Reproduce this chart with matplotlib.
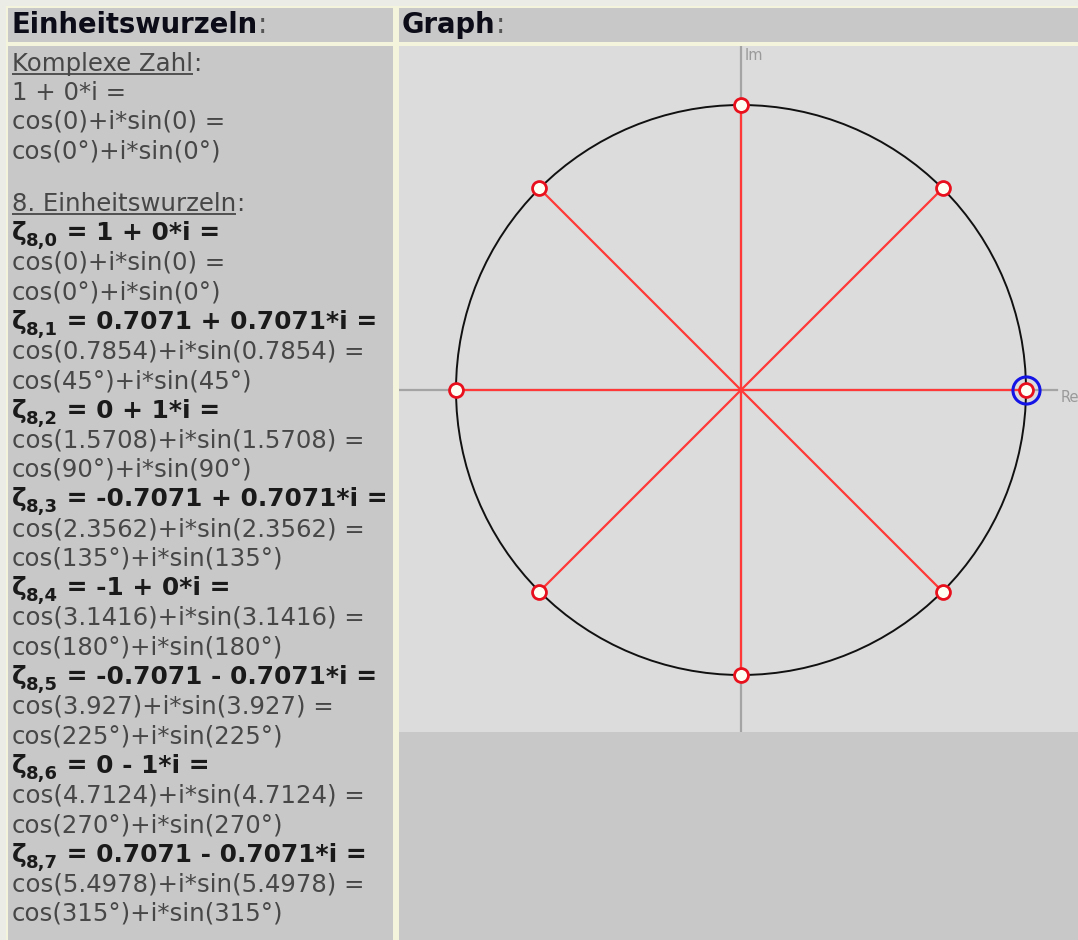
import matplotlib
matplotlib.use("Agg")
import matplotlib.pyplot as plt
from matplotlib.patches import Rectangle, Circle

# ---- data ----
n_roots = 8
root_re = [1, 0.7071, 0, -0.7071, -1, -0.7071, 0, 0.7071]
root_im = [0, 0.7071, 1, 0.7071, 0, -0.7071, -1, -0.7071]
root_rad = ["0", "0.7854", "1.5708", "2.3562", "3.1416", "3.927", "4.7124", "5.4978"]
root_deg = [0, 45, 90, 135, 180, 225, 270, 315]
z_re, z_im = 1, 0
z_rad, z_deg = "0", 0
header_left = "Einheitswurzeln"
header_right = "Graph"
axis_labels = ["Re", "Im"]

W, H = 1078, 940
fig = plt.figure(figsize=(W / 100, H / 100), dpi=100)
fig.patch.set_facecolor("#ecece6")

ax0 = fig.add_axes([0, 0, 1, 1])
ax0.set_xlim(0, W)
ax0.set_ylim(H, 0)
ax0.axis("off")

# panels
def rect(x0, y0, x1, y1, c, z=0):
    ax0.add_patch(Rectangle((x0, y0), x1 - x0, y1 - y0, facecolor=c, edgecolor="none", zorder=z))

rect(6, 6, W, H, "#f4f4dc")            # cream borders
rect(8, 8, 393, 42, "#c8c8c8")
rect(399, 8, W, 42, "#c8c8c8")
rect(8, 46, 393, H, "#c8c8c8")
rect(399, 46, W, 732, "#dcdcdc")
rect(399, 732, W, H, "#c8c8c8")

renderer = fig.canvas.get_renderer()

BODY = 17.6
BOLD = 17.9
BODY_C = "#474747"
BOLD_C = "#1a1a1a"


def put(x, y, s, size=BODY, weight="normal", color=BODY_C):
    t = ax0.text(x, y, s, fontsize=size, fontweight=weight, color=color,
                 va="baseline", ha="left", family="DejaVu Sans", zorder=5)
    bb = t.get_window_extent(renderer)
    return bb.x1


def underlined(x, y, s, color=BODY_C):
    x1 = put(x, y, s, color=color)
    ax0.plot([x, x1], [y + 3, y + 3], color=color, lw=1.3, zorder=5, solid_capstyle="butt")
    return put(x1, y, ":", color=color)


# headers
xe = put(12, 33, header_left, size=19.8, weight="bold", color="#0c0c18")
put(xe, 33, ":", size=19.8, color="#555555")
xe = put(402, 33, header_right, size=19.8, weight="bold", color="#0c0c18")
put(xe, 33, ":", size=19.8, color="#555555")


def cnum(re, im):
    sign = "-" if im < 0 else "+"
    return f"{re:g} {sign} {abs(im):g}*i ="


# left column
off = 8
underlined(12, 63 + off, "Komplexe Zahl")
put(12, 92 + off, cnum(z_re, z_im))
put(12, 121 + off, f"cos({z_rad})+i*sin({z_rad}) =")
put(12, 150 + off, f"cos({z_deg}°)+i*sin({z_deg}°)")
underlined(12, 203 + off, f"{n_roots}. Einheitswurzeln")

y = 232
step = 29.6
for k in range(n_roots):
    yb = y + off
    x1 = put(12, yb, "ζ", size=BOLD, weight="bold", color=BOLD_C)
    x2 = put(x1 - 1, yb + 6, f"{n_roots},{k}", size=13, weight="bold", color=BOLD_C)
    put(x2, yb, " = " + cnum(root_re[k], root_im[k]), size=BOLD, weight="bold", color=BOLD_C)
    y += step
    put(12, y + off, f"cos({root_rad[k]})+i*sin({root_rad[k]}) =")
    y += step
    put(12, y + off, f"cos({root_deg[k]}°)+i*sin({root_deg[k]}°)")
    y += step

# ---- graph ----
cx, cy, R = 741, 390, 285
gx0, gx1, gy0, gy1 = 399, W, 46, 732
ax = fig.add_axes([gx0 / W, (H - gy1) / H, (gx1 - gx0) / W, (gy1 - gy0) / H])
ax.set_xlim((gx0 - cx) / R, (gx1 - cx) / R)
ax.set_ylim((cy - gy1) / R, (cy - gy0) / R)
ax.axis("off")
ax.patch.set_alpha(0)

xl = ax.get_xlim()
yl = ax.get_ylim()
ax.plot([xl[0], (1057 - cx) / R], [0, 0], color="#a4a4a4", lw=1.6, zorder=1)
ax.plot([0, 0], [yl[0], yl[1]], color="#a4a4a4", lw=1.6, zorder=1)
ax.text((1061 - cx) / R, 0, axis_labels[0], color="#9a9a9a", fontsize=10.5,
        va="top", ha="left")
ax.text((745 - cx) / R, yl[1] - 2 / R, axis_labels[1], color="#9a9a9a", fontsize=10.5,
        va="top", ha="left")

ax.add_patch(Circle((0, 0), 1, fill=False, edgecolor="#111111", lw=1.4, zorder=2))
for re, im in zip(root_re, root_im):
    ax.plot([0, re], [0, im], color="#ff3838", lw=1.6, zorder=3)
ax.plot([z_re], [z_im], "o", ms=19.5, mfc="none", mec="#1414e6", mew=2.2, zorder=4)
ax.plot(root_re, root_im, "o", ls="none", ms=10, mfc="#fffff4", mec="#e8101c",
        mew=2.0, zorder=5)

fig.savefig("out.png", dpi=100, facecolor=fig.get_facecolor())
